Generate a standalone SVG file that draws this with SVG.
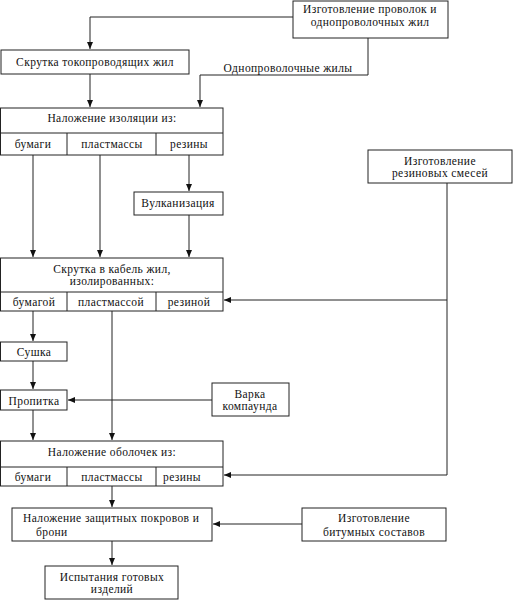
<svg xmlns="http://www.w3.org/2000/svg" width="513" height="600" viewBox="0 0 513 600">
<defs>
<style>
.b{fill:#fff;stroke:#222;stroke-width:1}
.c{fill:none;stroke:#222;stroke-width:1}
text{font-family:"Liberation Serif","DejaVu Serif",serif;font-size:11.5px;fill:#111;text-anchor:middle;letter-spacing:0.4px}
.l{text-anchor:start}
</style>
<marker id="a" markerWidth="8" markerHeight="8" refX="7" refY="3" orient="auto" markerUnits="userSpaceOnUse"><path d="M0,0 L7,3 L0,6 Z" fill="#111"/></marker>
</defs>
<rect width="513" height="600" fill="#fff"/>
<g id="connectors" font-family="Liberation Serif, serif">
<path class="c" d="M293,17 H90 V49" marker-end="url(#a)"/>
<path class="c" d="M368,38 V75 H200 V107" marker-end="url(#a)"/>
<path class="c" d="M90,74 V107" marker-end="url(#a)"/>
<path class="c" d="M33,155 V257" marker-end="url(#a)"/>
<path class="c" d="M100,155 V257" marker-end="url(#a)"/>
<path class="c" d="M189,155 V191" marker-end="url(#a)"/>
<path class="c" d="M189,215 V257" marker-end="url(#a)"/>
<path class="c" d="M447,183 V475 H224" marker-end="url(#a)"/>
<path class="c" d="M447,300 H224" marker-end="url(#a)"/>
<path class="c" d="M33,311 V341" marker-end="url(#a)"/>
<path class="c" d="M33,361 V389" marker-end="url(#a)"/>
<path class="c" d="M212,400 H68" marker-end="url(#a)"/>
<path class="c" d="M33,410 V440" marker-end="url(#a)"/>
<path class="c" d="M112,311 V440" marker-end="url(#a)"/>
<path class="c" d="M112,486 V507" marker-end="url(#a)"/>
<path class="c" d="M302,524 H213" marker-end="url(#a)"/>
<path class="c" d="M112,541 V565" marker-end="url(#a)"/>
<text x="288" y="72">Однопроволочные жилы</text>
</g>
<g id="n-wire">
<rect class="b" x="293" y="1" width="155" height="37"/>
<text x="370" y="13">Изготовление проволок и</text>
<text x="370" y="26">однопроволочных жил</text>
</g>
<g id="n-twist">
<rect class="b" x="1" y="50" width="188" height="24"/>
<text x="95" y="66">Скрутка токопроводящих жил</text>
</g>
<g id="n-insul">
<rect class="b" x="0.5" y="108" width="222.5" height="47"/>
<path class="c" d="M0.5,133 H223 M67,133 V155 M156,133 V155"/>
<text x="112" y="122">Наложение изоляции из:</text>
<text x="33" y="148">бумаги</text>
<text x="112" y="148">пластмассы</text>
<text x="189" y="148">резины</text>
</g>
<g id="n-rubber">
<rect class="b" x="368" y="150" width="144" height="33"/>
<text x="440" y="165">Изготовление</text>
<text x="440" y="177">резиновых смесей</text>
</g>
<g id="n-vulc">
<rect class="b" x="134" y="192" width="89" height="23"/>
<text x="178" y="207">Вулканизация</text>
</g>
<g id="n-cable">
<rect class="b" x="0.5" y="258" width="222.5" height="53"/>
<path class="c" d="M0.5,292 H223 M67,292 V311 M156,292 V311"/>
<text x="112" y="273">Скрутка в кабель жил,</text>
<text x="112" y="285">изолированных:</text>
<text x="34" y="306">бумагой</text>
<text x="111" y="306">пластмассой</text>
<text x="189" y="306">резиной</text>
</g>
<g id="n-dry">
<rect class="b" x="0.5" y="342" width="66.5" height="19"/>
<text x="34" y="356">Сушка</text>
</g>
<g id="n-impreg">
<rect class="b" x="0.5" y="390" width="66.5" height="20"/>
<text x="34" y="405">Пропитка</text>
</g>
<g id="n-compound">
<rect class="b" x="212" y="383" width="77" height="33"/>
<text x="250" y="398">Варка</text>
<text x="250" y="410">компаунда</text>
</g>
<g id="n-sheath">
<rect class="b" x="0.5" y="441" width="222.5" height="45"/>
<path class="c" d="M0.5,467 H223 M67,467 V486 M156,467 V486"/>
<text x="112" y="456">Наложение оболочек из:</text>
<text x="33" y="481">бумаги</text>
<text x="112" y="481">пластмассы</text>
<text x="182" y="481">резины</text>
</g>
<g id="n-armor">
<rect class="b" x="12" y="508" width="200" height="33"/>
<text class="l" x="23" y="522">Наложение защитных покровов и</text>
<text class="l" x="36" y="536">брони</text>
</g>
<g id="n-bitumen">
<rect class="b" x="302" y="508" width="144" height="33"/>
<text x="374" y="522">Изготовление</text>
<text x="374" y="536">битумных составов</text>
</g>
<g id="n-test">
<rect class="b" x="45" y="566" width="133" height="33"/>
<text x="112" y="581">Испытания готовых</text>
<text x="112" y="593">изделий</text>
</g>
</svg>
